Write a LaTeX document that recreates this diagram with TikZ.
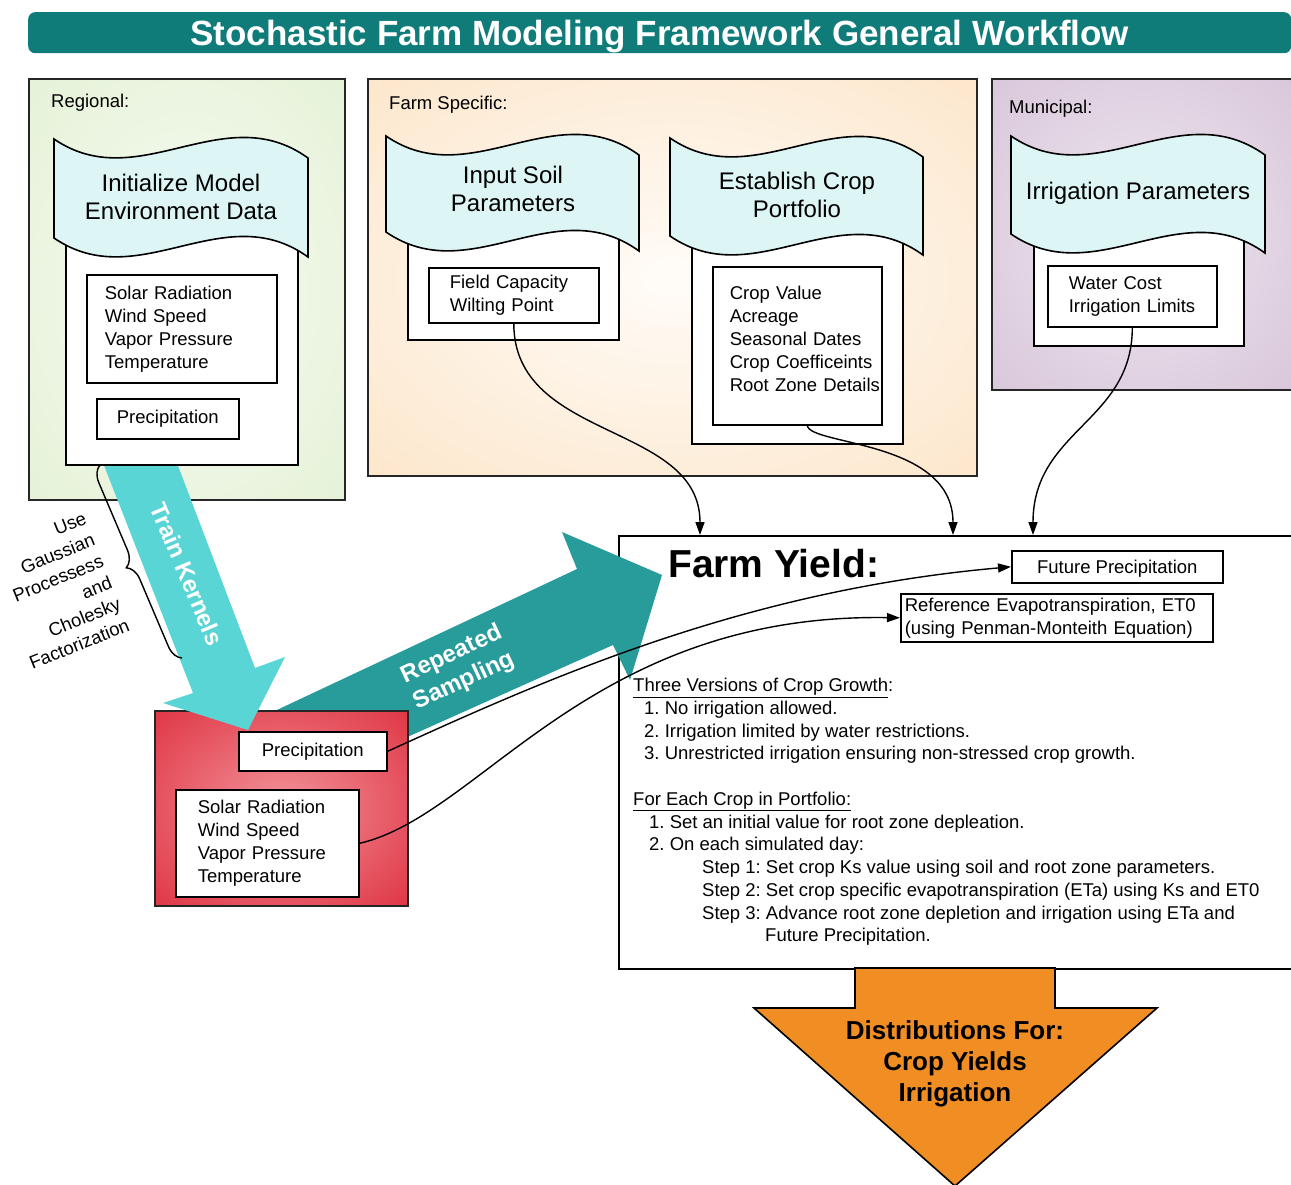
\documentclass[tikz,border=0pt]{standalone}
\usepackage{fontspec}
\setmainfont{Liberation Sans}
\usetikzlibrary{arrows.meta,positioning,decorations.pathreplacing}
\frenchspacing
\definecolor{headteal}{HTML}{0F7C7A}
\definecolor{greenedge}{HTML}{E2F0D3}
\definecolor{greenmid}{HTML}{F7FBF2}
\definecolor{peachedge}{HTML}{FCE3C4}
\definecolor{peachmid}{HTML}{FFFCF8}
\definecolor{lilacedge}{HTML}{D5C2D7}
\definecolor{lilacmid}{HTML}{EEE6EF}
\definecolor{rededge}{HTML}{DC2535}
\definecolor{redmid}{HTML}{F2939A}
\definecolor{tapecyan}{HTML}{DDF5F5}
\definecolor{kernelcyan}{HTML}{5AD5D6}
\definecolor{sampleteal}{HTML}{289C9B}
\definecolor{outorange}{HTML}{F08D23}

% soft centre-to-edge fills for the scope panels
\pgfdeclareradialshading{greenglow}{\pgfpoint{0bp}{0bp}}{color(0bp)=(greenmid); color(42bp)=(greenedge); color(50bp)=(greenedge)}
\pgfdeclareradialshading{peachglow}{\pgfpoint{0bp}{0bp}}{color(0bp)=(peachmid); color(42bp)=(peachedge); color(50bp)=(peachedge)}
\pgfdeclareradialshading{lilacglow}{\pgfpoint{0bp}{0bp}}{color(0bp)=(lilacmid); color(42bp)=(lilacedge); color(50bp)=(lilacedge)}
\pgfdeclareradialshading{redglow}{\pgfpoint{0bp}{0bp}}{color(0bp)=(redmid); color(42bp)=(rededge); color(50bp)=(rededge)}

\begin{document}
\begin{tikzpicture}[
  x=1pt,y=-1pt,
  line join=miter,
  font=\fontsize{18.5}{23}\selectfont,
  region/.style={draw=black!85,line width=1.6pt,shade,anchor=north west,inner sep=0pt},
  panel/.style={draw=black,line width=1.6pt,fill=white,anchor=north west,inner sep=0pt},
  databox/.style={draw=black,line width=1.6pt,fill=white,anchor=north west,align=left,inner ysep=0pt},
  tapetext/.style={font=\fontsize{24}{28}\selectfont,align=center},
  tag/.style={anchor=west,inner sep=0pt},
  flow/.style={-{Triangle[length=13pt,width=9pt]},line width=1.4pt},
  arrowtext/.style={text=white,font=\bfseries\fontsize{24}{29}\selectfont,align=center}
]
\useasboundingbox (0,0) rectangle (1291,1184);

% Title bar
\node[fill=headteal,rounded corners=7pt,minimum width=1263pt,minimum height=41pt,
      anchor=north west,inner sep=0pt,text height=25pt,text depth=0pt,
      text=white,font=\bfseries\fontsize{35}{40}\selectfont]
  (title) at (28,12) {Stochastic Farm Modeling Framework General Workflow};

% Scope panels
\node[region,shading=greenglow,minimum width=316pt,minimum height=421pt] (regional) at (28,78) {};
\node[region,shading=peachglow,minimum width=609pt,minimum height=397pt] (farmspec) at (367,78) {};
\node[region,shading=lilacglow,minimum width=300pt,minimum height=311pt] (municipal) at (991,78) {};
\node[tag] (regionaltag) at (51,103) {Regional:};
\node[tag] (farmtag) at (389,105) {Farm Specific:};
\node[tag] (munitag) at (1009,109) {Municipal:};

% Yield model
\node[panel,minimum width=700pt,minimum height=433pt] (yield) at (618,535) {};

% Sampling arrow, then the weather generator box on top of its tail
\fill[sampleteal] (230,732) -- (577,569) -- (562,532) -- (662,575) -- (630,680) -- (613,645) -- (300,785) -- cycle;
\node[arrowtext,rotate=25] (sampling) at (458,668) {Repeated\\Sampling};
\node[region,shading=redglow,minimum width=253pt,minimum height=195pt] (generator) at (154,710) {};

% Kernel training arrow
\fill[kernelcyan] (98,450) -- (193,693) -- (163,703) -- (248,730) -- (285,657) -- (255,668) -- (172,450) -- cycle;
\node[arrowtext,rotate=-67] (kernels) at (187,574) {Train Kernels};

\coordinate (bracetop) at (100,465);
\coordinate (bracebot) at (182,658);
\draw[line width=1.4pt,decorate,decoration={brace,amplitude=16pt}] (bracebot) -- (bracetop);
\node[align=right,rotate=22,anchor=east,inner sep=0pt] (gptext) at (107,571)
  {Use\\Gaussian\\Processess\\and\\Cholesky\\Factorization};

% White backing panels
\node[panel,minimum width=232pt,minimum height=264pt] (regionpanel) at (65,200) {};
\node[panel,minimum width=211pt,minimum height=139pt] (soilpanel) at (407,200) {};
\node[panel,minimum width=211pt,minimum height=243pt] (croppanel) at (691,200) {};
\node[panel,minimum width=210pt,minimum height=145pt] (waterpanel) at (1033,200) {};

% Wavy input banners
\foreach \bx/\by/\bw/\bh in {54/139/254/99, 386/136/253/96, 670/138/253/98, 1011/136/254/98}{
  \filldraw[fill=tapecyan,line width=1.6pt] (\bx,\by)
    .. controls ({\bx+\bw/3},{\by+58}) and ({\bx+2*\bw/3},{\by-42}) .. ({\bx+\bw},{\by+19})
    -- ({\bx+\bw},{\by+\bh+19})
    .. controls ({\bx+2*\bw/3},{\by+\bh-42}) and ({\bx+\bw/3},{\by+\bh+58}) .. (\bx,{\by+\bh}) -- cycle;
}
\node[tapetext] (initmodel) at (181,197) {Initialize Model\\Environment Data};
\node[tapetext] (soilparams) at (513,189) {Input Soil\\Parameters};
\node[tapetext] (cropportfolio) at (797,195) {Establish Crop\\Portfolio};
\node[tapetext] (irrparams) at (1138,193) {Irrigation Parameters};

% Data lists
\node[databox,minimum width=190pt,minimum height=108pt,text width=154pt,inner xsep=18pt] (regsolar) at (86,274)
  {Solar Radiation\\Wind Speed\\Vapor Pressure\\Temperature};
\node[databox,minimum width=142pt,minimum height=40pt,align=center] (regprecip) at (96,398) {Precipitation};
\node[databox,minimum width=169pt,minimum height=55pt,text width=128pt,inner xsep=21pt] (soildata) at (428,267)
  {Field Capacity\\Wilting Point};
\node[databox,minimum width=169pt,minimum height=158pt,text width=135pt,inner xsep=17pt] (cropdata) at (712,266)
  {Crop Value\\Acreage\\Seasonal Dates\\\mbox{Crop Coefficeints}\\\mbox{Root Zone Details}\\[-9pt]\mbox{}};
\node[databox,minimum width=169pt,minimum height=61pt,text width=127pt,inner xsep=21pt] (waterdata) at (1047,265)
  {Water Cost\\Irrigation Limits};
\node[databox,minimum width=148pt,minimum height=39pt,align=center] (redprecip) at (238,731) {Precipitation};
\node[databox,minimum width=183pt,minimum height=107pt,text width=139pt,inner xsep=22pt] (redsolar) at (175,789)
  {Solar Radiation\\Wind Speed\\Vapor Pressure\\Temperature};

% Farm yield contents
\node[anchor=base west,inner sep=0pt,font=\bfseries\fontsize{39}{44}\selectfont] (yieldhead) at (668,577) {Farm Yield:};
\node[databox,minimum width=211pt,minimum height=32pt,align=center,text height=15pt,text depth=2pt] (futureprecip) at (1011,550) {Future Precipitation};
\node[databox,minimum width=312pt,minimum height=48pt,text width=304pt,inner xsep=4pt] (refet) at (900,593)
  {Reference Evapotranspiration, ET0\\(using Penman-Monteith Equation)};
\node[anchor=north west,inner sep=0pt,align=left,font=\fontsize{18.5}{22.75}\selectfont] (cropsteps) at (633,678) {%
  \underline{Three Versions of Crop Growth}:\\
  \hspace*{11pt}1. No irrigation allowed.\\
  \hspace*{11pt}2. Irrigation limited by water restrictions.\\
  \hspace*{11pt}3. Unrestricted irrigation ensuring non-stressed crop growth.\\[22.75pt]
  \underline{For Each Crop in Portfolio:}\\
  \hspace*{16pt}1. Set an initial value for root zone depleation.\\
  \hspace*{16pt}2. On each simulated day:\\
  \hspace*{69pt}Step 1: Set crop Ks value using soil and root zone parameters.\\
  \hspace*{69pt}Step 2: Set crop specific evapotranspiration (ETa) using Ks and ET0\\
  \hspace*{69pt}Step 3: Advance root zone depletion and irrigation using ETa and\\
  \hspace*{132pt}Future Precipitation.};

% Output arrow
\filldraw[fill=outorange,line width=1.6pt] (855,968) -- (855,1008) -- (754,1008) -- (955,1186)
  -- (1157,1008) -- (1055,1008) -- (1055,968) -- cycle;
\node[font=\bfseries\fontsize{26}{31}\selectfont,align=center] (outcomes) at (955,1064)
  {Distributions For:\\Crop Yields\\Irrigation};

% Connectors
\draw[flow] (soildata.south) .. controls +(0,118) and +(0,-113) .. ([xshift=82pt]yield.north west);
\draw[flow] ([xshift=10pt]cropdata.south) .. controls +(3,20) and +(0,-95) .. ([xshift=335pt]yield.north west);
\draw[flow] (waterdata.south) .. controls +(0,94) and +(0,-105) .. ([xshift=415pt]yield.north west);
\draw[flow] (redprecip.east) .. controls +(154,-70) and +(-271,24) .. (futureprecip.west);
\draw[flow] (redsolar.east) .. controls +(122,-28) and +(-310,-5) .. (refet.west);
\end{tikzpicture}
\end{document}
